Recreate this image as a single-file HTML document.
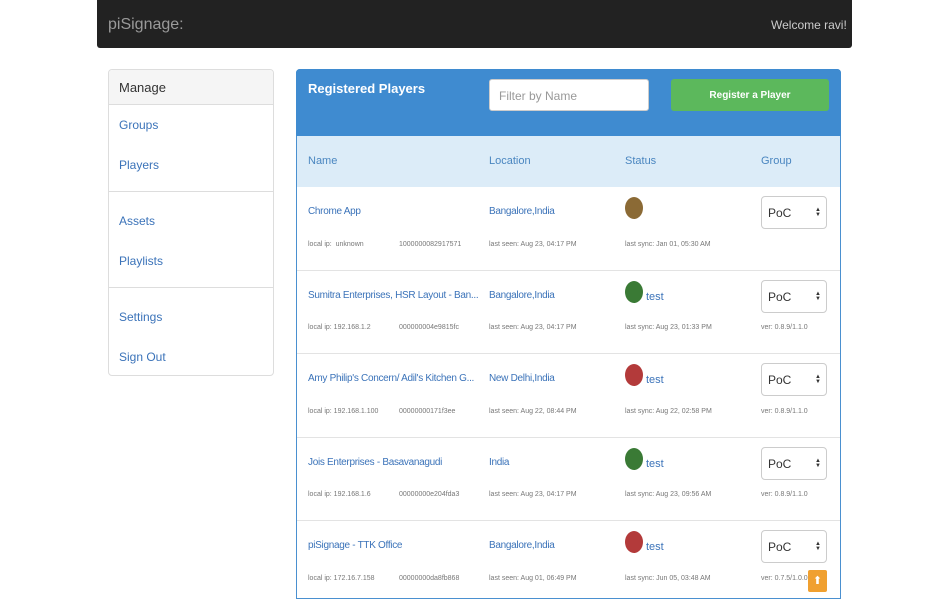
<!DOCTYPE html><html><head><style>
*{box-sizing:border-box}body{margin:0;width:947px;height:592px;overflow:hidden;background:#fff;font-family:"Liberation Sans",sans-serif;position:relative}
.a{position:absolute;white-space:nowrap}
.nav{left:97px;top:0;width:755px;height:48px;background:#222;border-radius:0 0 3px 3px}
.side{left:108px;top:69px;width:166px;height:307px;border:1px solid #ddd;border-radius:4px;background:#fff}
.lk{color:#3b73b9;font-size:12px}
.nm{font-size:10px;letter-spacing:-0.3px}
.sm{color:#777;font-size:7px}
.sel{width:66px;height:33px;border:1px solid #ccc;border-radius:4px;background:#fff;font-size:12px;color:#333;padding:9px 0 0 6px}
.ar{position:absolute;right:5px;top:11px;font-size:6px;line-height:5px;color:#333}
.dot{width:18px;height:22px;border-radius:50%}
</style></head><body>
<div class="a nav"></div>
<div class="a" style="left:108px;top:16px;color:#9a9a9a;font-size:16px">piSignage:</div>
<div class="a" style="left:771px;top:18px;color:#ccc;font-size:12px">Welcome ravi!</div>
<div class="a side"></div>
<div class="a" style="left:109px;top:70px;width:164px;height:35px;background:#f5f5f5;border-bottom:1px solid #ddd;border-radius:4px 4px 0 0"></div>
<div class="a" style="left:119px;top:80px;font-size:13px;color:#333">Manage</div>
<div class="a lk" style="left:119px;top:118px">Groups</div>
<div class="a lk" style="left:119px;top:158px">Players</div>
<div class="a" style="left:109px;top:191px;width:164px;border-top:1px solid #ddd"></div>
<div class="a lk" style="left:119px;top:214px">Assets</div>
<div class="a lk" style="left:119px;top:254px">Playlists</div>
<div class="a" style="left:109px;top:287px;width:164px;border-top:1px solid #ddd"></div>
<div class="a lk" style="left:119px;top:310px">Settings</div>
<div class="a lk" style="left:119px;top:350px">Sign Out</div>
<div class="a" style="left:296px;top:69px;width:545px;height:530px;border:1px solid #4a90d0;border-radius:4px 4px 0 0"></div>
<div class="a" style="left:296px;top:69px;width:545px;height:67px;background:#3f8bd0;border-radius:4px 4px 0 0"></div>
<div class="a" style="left:308px;top:81px;color:#fff;font-size:13px;font-weight:bold">Registered Players</div>
<div class="a" style="left:489px;top:79px;width:160px;height:32px;background:#fff;border-radius:3px;border:1px solid #ccc;color:#999;font-size:12px;padding:9px 9px">Filter by Name</div>
<div class="a" style="left:671px;top:79px;width:158px;height:32px;background:#5cb85c;border-radius:3px;color:#fff;font-size:10px;font-weight:bold;text-align:center;padding-top:11px">Register a Player</div>
<div class="a" style="left:297px;top:136px;width:543px;height:51px;background:#dcecf8"></div>
<div class="a" style="left:308px;top:155px;color:#4a86c0;font-size:11px">Name</div>
<div class="a" style="left:489px;top:155px;color:#4a86c0;font-size:11px">Location</div>
<div class="a" style="left:625px;top:155px;color:#4a86c0;font-size:11px">Status</div>
<div class="a" style="left:761px;top:155px;color:#4a86c0;font-size:11px">Group</div>

<div class="a lk nm" style="left:308px;top:206px">Chrome App</div>
<div class="a lk nm" style="left:489px;top:206px">Bangalore,India</div>
<div class="a dot" style="left:625px;top:197px;background:#8b6a35"></div>
<div class="a sel" style="left:761px;top:196px">PoC<span class="ar">▲<br>▼</span></div>
<div class="a sm" style="left:308px;top:241px">local ip:&nbsp; unknown</div>
<div class="a sm" style="left:399px;top:241px">1000000082917571</div>
<div class="a sm" style="left:489px;top:241px">last seen: Aug 23, 04:17 PM</div>
<div class="a sm" style="left:625px;top:241px">last sync: Jan 01, 05:30 AM</div>
<div class="a" style="left:297px;top:270px;width:543px;border-top:1px solid #e3e3e3"></div>

<div class="a lk nm" style="left:308px;top:290px">Sumitra Enterprises, HSR Layout - Ban...</div>
<div class="a lk nm" style="left:489px;top:290px">Bangalore,India</div>
<div class="a dot" style="left:625px;top:281px;background:#3a7a35"></div>
<div class="a lk" style="left:646px;top:291px;font-size:11px">test</div>
<div class="a sel" style="left:761px;top:280px">PoC<span class="ar">▲<br>▼</span></div>
<div class="a sm" style="left:308px;top:324px">local ip: 192.168.1.2</div>
<div class="a sm" style="left:399px;top:324px">000000004e9815fc</div>
<div class="a sm" style="left:489px;top:324px">last seen: Aug 23, 04:17 PM</div>
<div class="a sm" style="left:625px;top:324px">last sync: Aug 23, 01:33 PM</div>
<div class="a sm" style="left:761px;top:324px">ver: 0.8.9/1.1.0</div>
<div class="a" style="left:297px;top:353px;width:543px;border-top:1px solid #e3e3e3"></div>

<div class="a lk nm" style="left:308px;top:373px">Amy Philip's Concern/ Adil's Kitchen G...</div>
<div class="a lk nm" style="left:489px;top:373px">New Delhi,India</div>
<div class="a dot" style="left:625px;top:364px;background:#b33a3a"></div>
<div class="a lk" style="left:646px;top:374px;font-size:11px">test</div>
<div class="a sel" style="left:761px;top:363px">PoC<span class="ar">▲<br>▼</span></div>
<div class="a sm" style="left:308px;top:408px">local ip: 192.168.1.100</div>
<div class="a sm" style="left:399px;top:408px">00000000171f3ee</div>
<div class="a sm" style="left:489px;top:408px">last seen: Aug 22, 08:44 PM</div>
<div class="a sm" style="left:625px;top:408px">last sync: Aug 22, 02:58 PM</div>
<div class="a sm" style="left:761px;top:408px">ver: 0.8.9/1.1.0</div>
<div class="a" style="left:297px;top:437px;width:543px;border-top:1px solid #e3e3e3"></div>

<div class="a lk nm" style="left:308px;top:457px">Jois Enterprises - Basavanagudi</div>
<div class="a lk nm" style="left:489px;top:457px">India</div>
<div class="a dot" style="left:625px;top:448px;background:#3a7a35"></div>
<div class="a lk" style="left:646px;top:458px;font-size:11px">test</div>
<div class="a sel" style="left:761px;top:447px">PoC<span class="ar">▲<br>▼</span></div>
<div class="a sm" style="left:308px;top:491px">local ip: 192.168.1.6</div>
<div class="a sm" style="left:399px;top:491px">00000000e204fda3</div>
<div class="a sm" style="left:489px;top:491px">last seen: Aug 23, 04:17 PM</div>
<div class="a sm" style="left:625px;top:491px">last sync: Aug 23, 09:56 AM</div>
<div class="a sm" style="left:761px;top:491px">ver: 0.8.9/1.1.0</div>
<div class="a" style="left:297px;top:520px;width:543px;border-top:1px solid #e3e3e3"></div>

<div class="a lk nm" style="left:308px;top:540px">piSignage - TTK Office</div>
<div class="a lk nm" style="left:489px;top:540px">Bangalore,India</div>
<div class="a dot" style="left:625px;top:531px;background:#b33a3a"></div>
<div class="a lk" style="left:646px;top:541px;font-size:11px">test</div>
<div class="a sel" style="left:761px;top:530px">PoC<span class="ar">▲<br>▼</span></div>
<div class="a sm" style="left:308px;top:575px">local ip: 172.16.7.158</div>
<div class="a sm" style="left:399px;top:575px">00000000da8fb868</div>
<div class="a sm" style="left:489px;top:575px">last seen: Aug 01, 06:49 PM</div>
<div class="a sm" style="left:625px;top:575px">last sync: Jun 05, 03:48 AM</div>
<div class="a sm" style="left:761px;top:575px">ver: 0.7.5/1.0.0</div>
<div class="a" style="left:808px;top:570px;width:19px;height:22px;background:#f0a030;border-radius:2px;color:#fff;font-size:11px;text-align:center;padding-top:4px">⬆</div>
</body></html>
